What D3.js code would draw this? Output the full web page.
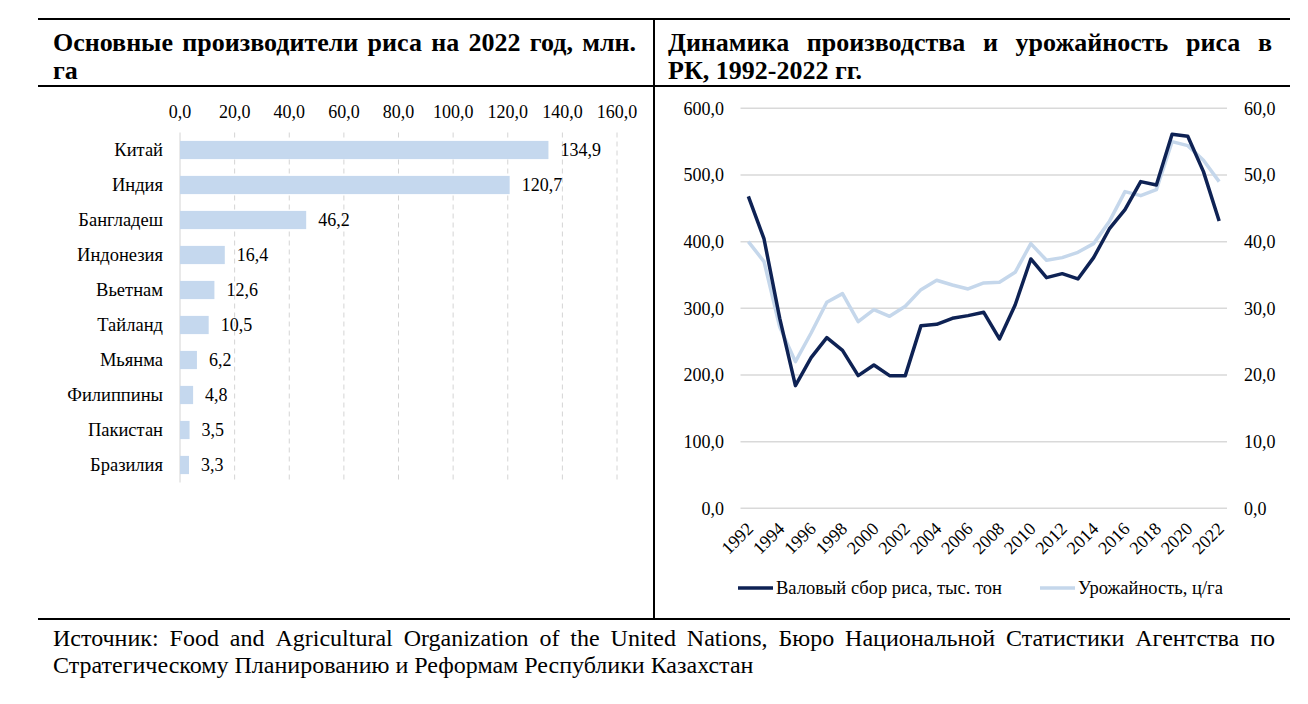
<!DOCTYPE html>
<html>
<head>
<meta charset="utf-8">
<script src="https://cdn.jsdelivr.net/npm/d3@7"></script>
<style>
  html, body { margin: 0; padding: 0; background: #fff; }
</style>
</head>
<body>
<svg id="chart" width="1308" height="704"></svg>
<script>
// ---------- DATA ----------
const countries = ["Китай","Индия","Бангладеш","Индонезия","Вьетнам","Тайланд","Мьянма","Филиппины","Пакистан","Бразилия"];
const areaValues = [134.9,120.7,46.2,16.4,12.6,10.5,6.2,4.8,3.5,3.3];
const areaTicks = [0,20,40,60,80,100,120,140,160];

const years = [1992,1993,1994,1995,1996,1997,1998,1999,2000,2001,2002,2003,2004,2005,2006,2007,2008,2009,2010,2011,2012,2013,2014,2015,2016,2017,2018,2019,2020,2021,2022];
const production = [468,404,285,184,226,256,237,199,215,199,199,274,276,285,289,294,254,305,374,346,352,344,376,419,448,490,485,561,558,505,431];
const yieldValues = [40.0,37.0,27.2,22.0,26.3,30.9,32.2,28.0,29.8,28.8,30.3,32.8,34.2,33.5,32.9,33.8,33.9,35.4,39.7,37.2,37.6,38.4,39.7,43.0,47.5,46.9,47.8,55.0,54.4,52.2,49.0];
const prodTicks = [0,100,200,300,400,500,600];
const yieldTicks = [0,10,20,30,40,50,60];
const yearLabels = years.filter((y,i) => i % 2 === 0);

const seriesNames = ["Валовый сбор риса, тыс. тон", "Урожайность, ц/га"];
const sourceLine1 = "Источник: Food and Agricultural Organization of the United Nations, Бюро Национальной Статистики Агентства по";
const sourceLine2 = "Стратегическому Планированию и Реформам Республики Казахстан";

// ---------- helpers ----------
const FONT = "'Liberation Serif'";
const svg = d3.select("#chart");
const fmt = v => v.toFixed(1).replace(".", ",");

function justify(g, text, x0, x1, y, size, weight) {
  const words = text.split(/\s+/).filter(w => w.length);
  const nodes = words.map(w => g.append("text").attr("y", y)
      .style("font-family", FONT)
      .style("font-size", size + "px").style("font-weight", weight).text(w));
  const widths = nodes.map(n => n.node().getComputedTextLength());
  const total = d3.sum(widths);
  const gap = words.length > 1 ? (x1 - x0 - total) / (words.length - 1) : 0;
  let x = x0;
  nodes.forEach((n, i) => { n.attr("x", x); x += widths[i] + gap; });
}

// ---------- frame ----------
const frame = svg.append("g").attr("stroke", "#000").attr("stroke-width", 2);
frame.append("line").attr("x1", 38).attr("x2", 1290).attr("y1", 19).attr("y2", 19);
frame.append("line").attr("x1", 38).attr("x2", 1290).attr("y1", 86).attr("y2", 86);
frame.append("line").attr("x1", 38).attr("x2", 1290).attr("y1", 619).attr("y2", 619);
frame.append("line").attr("x1", 654).attr("x2", 654).attr("y1", 19).attr("y2", 619);

// ---------- titles ----------
const tg = svg.append("g");
justify(tg, "Основные производители риса на 2022 год, млн.", 53, 636, 51, 26, "bold");
tg.append("text").attr("x", 53).attr("y", 79).style("font-size", "26px").style("font-weight", "bold").text("га");
justify(tg, "Динамика производства и урожайность риса в", 668, 1272, 51, 26, "bold");
tg.append("text").attr("x", 668).attr("y", 79).style("font-size", "26px").style("font-weight", "bold").text("РК, 1992-2022 гг.");

// ---------- footer ----------
const fg = svg.append("g");
justify(fg, sourceLine1, 53, 1275, 646, 24, "normal");
fg.append("text").attr("x", 53).attr("y", 673).style("font-size", "24px").text(sourceLine2);

// ---------- LEFT: bar chart ----------
const xBar = d3.scaleLinear().domain([0, 160]).range([180, 617]);
const yBar = d3.scaleBand().domain(countries).range([132.5, 482.5]).paddingInner(0.48).paddingOuter(0.24);
const lg = svg.append("g");

lg.append("g").selectAll("line").data(areaTicks.filter(t => t > 0)).join("line")
  .attr("x1", d => xBar(d)).attr("x2", d => xBar(d))
  .attr("y1", 132.5).attr("y2", 482.5)
  .attr("stroke", "#d4d4d4").attr("stroke-width", 1).attr("stroke-dasharray", "5,4");
lg.append("line").attr("x1", xBar(0)).attr("x2", xBar(0)).attr("y1", 132.5).attr("y2", 482.5)
  .attr("stroke", "#d4d4d4").attr("stroke-width", 1);

lg.append("g").selectAll("text").data(areaTicks).join("text")
  .attr("x", d => xBar(d)).attr("y", 118).attr("text-anchor", "middle")
  .style("font-size", "18px").text(d => fmt(d));

lg.append("g").selectAll("rect").data(countries).join("rect")
  .attr("x", xBar(0)).attr("y", d => yBar(d))
  .attr("width", (d, i) => xBar(areaValues[i]) - xBar(0))
  .attr("height", yBar.bandwidth())
  .attr("fill", "#c5d8ee");

lg.append("g").selectAll("text").data(countries).join("text")
  .attr("x", 163).attr("y", d => yBar(d) + yBar.bandwidth() / 2).attr("dy", "0.35em")
  .attr("text-anchor", "end").style("font-size", "18.5px").text(d => d);

lg.append("g").selectAll("text").data(countries).join("text")
  .attr("x", (d, i) => xBar(areaValues[i]) + 12).attr("y", d => yBar(d) + yBar.bandwidth() / 2).attr("dy", "0.35em")
  .style("font-size", "18px").text((d, i) => fmt(areaValues[i]));

// ---------- RIGHT: line chart ----------
const xLine = d3.scaleBand().domain(years).range([740.5, 1227]);
const xc = y => xLine(y) + xLine.bandwidth() / 2;
const yProd = d3.scaleLinear().domain([0, 600]).range([508.3, 108.3]);
const yYield = d3.scaleLinear().domain([0, 60]).range([508.3, 108.3]);
const rg = svg.append("g");

rg.append("g").selectAll("line").data(prodTicks).join("line")
  .attr("x1", 740.5).attr("x2", 1227).attr("y1", d => yProd(d)).attr("y2", d => yProd(d))
  .attr("stroke", "#d9d9d9").attr("stroke-width", 1.5);

rg.append("g").selectAll("text").data(prodTicks).join("text")
  .attr("x", 724).attr("y", d => yProd(d)).attr("dy", "0.35em").attr("text-anchor", "end")
  .style("font-size", "18px").text(d => fmt(d));
rg.append("g").selectAll("text").data(yieldTicks).join("text")
  .attr("x", 1244).attr("y", d => yYield(d)).attr("dy", "0.35em").attr("text-anchor", "start")
  .style("font-size", "18px").text(d => fmt(d));

rg.append("g").selectAll("text").data(yearLabels).join("text")
  .attr("transform", d => `translate(${xc(d) - 3},${521}) rotate(-45)`)
  .attr("text-anchor", "end").attr("dy", "0.7em")
  .style("font-size", "18px").text(d => d);

const lineYield = d3.line().x((d, i) => xc(years[i])).y(d => yYield(d));
const lineProd = d3.line().x((d, i) => xc(years[i])).y(d => yProd(d));

rg.append("path").datum(yieldValues).attr("d", lineYield)
  .attr("fill", "none").attr("stroke", "#c5d7eb").attr("stroke-width", 3.5).attr("stroke-linejoin", "round");
rg.append("path").datum(production).attr("d", lineProd)
  .attr("fill", "none").attr("stroke", "#0e2254").attr("stroke-width", 3.5).attr("stroke-linejoin", "round");

// legend
const legendColors = ["#0e2254", "#c5d7eb"];
const legendX = [738, 1040];
const leg = rg.append("g");
seriesNames.forEach((name, i) => {
  leg.append("line").attr("x1", legendX[i]).attr("x2", legendX[i] + 35).attr("y1", 588).attr("y2", 588)
    .attr("stroke", legendColors[i]).attr("stroke-width", 3.5);
  leg.append("text").attr("x", legendX[i] + 38).attr("y", 588).attr("dy", "0.35em")
    .style("font-size", "18.5px").text(name);
});

// apply the serif font to every text element
svg.selectAll("text").style("font-family", FONT);
</script>
</body>
</html>
